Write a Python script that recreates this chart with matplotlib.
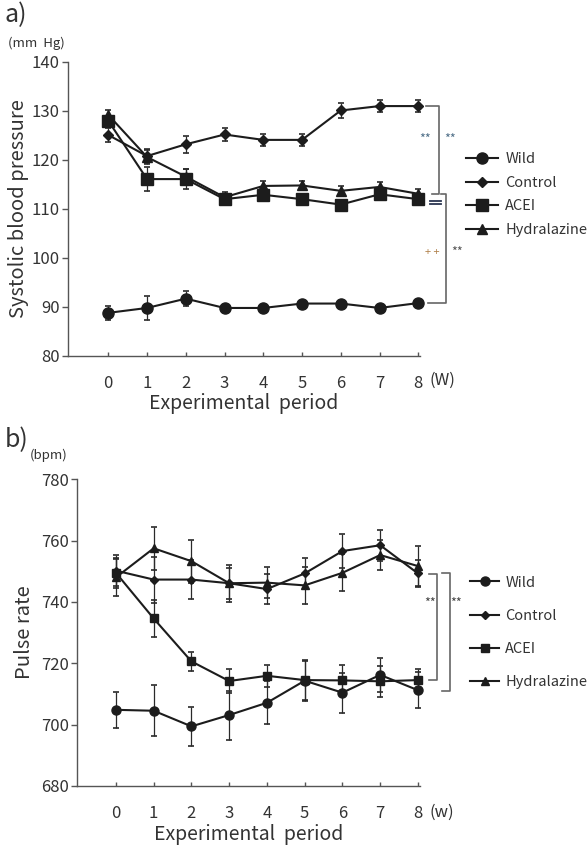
import matplotlib
matplotlib.use("Agg")
import matplotlib.pyplot as plt
from matplotlib.lines import Line2D
import matplotlib.transforms as mtransforms

plt.rcParams['font.family'] = ['Noto Sans CJK JP', 'DejaVu Sans']

weeks = [0, 1, 2, 3, 4, 5, 6, 7, 8]
week_labels = ["0", "1", "2", "3", "4", "5", "6", "7", "8"]
groups = ["Wild", "Control", "ACEI", "Hydralazine"]

# Panel a: systolic blood pressure (mm Hg)
sbp_wild = [88.8, 89.8, 91.7, 89.8, 89.8, 90.7, 90.7, 89.8, 90.8]
sbp_wild_err = [1.5, 2.5, 1.5, 0.5, 0.5, 0.5, 0.5, 0.5, 0.5]
sbp_control = [125.1, 120.8, 123.2, 125.2, 124.1, 124.1, 130.1, 131.0, 131.0]
sbp_control_err = [1.5, 1.5, 1.7, 1.3, 1.3, 1.3, 1.6, 1.3, 1.3]
sbp_acei = [128.0, 116.1, 116.1, 112.0, 112.9, 112.0, 110.9, 113.0, 112.0]
sbp_acei_err = [1.0, 2.5, 2.0, 1.0, 1.0, 1.0, 1.0, 1.0, 1.0]
sbp_hydra = [129.2, 120.6, 116.6, 112.4, 114.7, 114.8, 113.7, 114.5, 113.1]
sbp_hydra_err = [1.0, 1.5, 1.5, 1.0, 1.0, 1.0, 1.0, 1.0, 1.0]
sbp_ticks = [80, 90, 100, 110, 120, 130, 140]

# Panel b: pulse rate (bpm)
pr_wild = [704.8, 704.5, 699.4, 703.1, 707.1, 714.3, 710.4, 716.2, 711.2]
pr_wild_err = [5.8, 8.4, 6.3, 8.0, 7.0, 6.5, 6.5, 5.5, 5.8]
pr_control = [750.2, 747.3, 747.3, 746.1, 744.2, 749.3, 756.6, 758.5, 749.3]
pr_control_err = [5.0, 7.5, 6.5, 5.0, 5.0, 5.0, 5.5, 5.0, 4.5]
pr_acei = [749.5, 734.6, 720.6, 714.2, 715.9, 714.5, 714.4, 714.1, 714.5]
pr_acei_err = [5.0, 6.0, 3.0, 4.0, 3.5, 6.5, 5.0, 5.0, 3.5]
pr_hydra = [748.0, 757.5, 753.3, 746.1, 746.3, 745.4, 749.5, 755.3, 751.7]
pr_hydra_err = [6.0, 7.0, 7.0, 6.0, 5.0, 6.0, 6.0, 5.0, 6.5]
pr_ticks = [680, 700, 720, 740, 760, 780]

LINE = "#1c1c1c"
AX = "#555555"
TXT = "#333333"
BLUE = "#4f6f88"
ORANGE = "#b0804a"

fig = plt.figure(figsize=(5.88, 8.49), dpi=100)


def style_axes(ax, yticks, ylim):
    for s in ["top", "right"]:
        ax.spines[s].set_visible(False)
    for s in ["left", "bottom"]:
        ax.spines[s].set_color(AX)
        ax.spines[s].set_linewidth(1.0)
    ax.set_ylim(*ylim)
    ax.set_yticks(yticks)
    ax.set_xticks(weeks)
    ax.set_xticklabels(week_labels)
    ax.tick_params(axis="y", direction="out", length=4, width=1, color=AX,
                   labelsize=12, labelcolor=TXT, pad=2)
    ax.tick_params(axis="x", direction="in", length=3, width=1, color=AX,
                   labelsize=12, labelcolor=TXT, pad=14)


def draw_series(ax, ydata, yerr, marker, ms):
    ax.errorbar(weeks, ydata, yerr=yerr, color=LINE, marker=marker, ms=ms,
                lw=1.5, elinewidth=0.9, capsize=2.5, capthick=1.2,
                ecolor="#2a2a2a", clip_on=False, zorder=3)


def legend_handles(sizes):
    marks = ["o", "D", "s", "^"]
    return [Line2D([0], [0], color=LINE, lw=1.5, marker=m, ms=s)
            for m, s in zip(marks, sizes)]


def week_unit(ax, text, yfrac):
    tr = mtransforms.blended_transform_factory(ax.transData, ax.transAxes)
    ax.text(8.3, yfrac, text, transform=tr, fontsize=12, color=TXT,
            va="center", ha="left")


# ---------------- Panel a ----------------
axa = fig.add_axes([0.1156, 0.5807, 0.599, 0.3463])
style_axes(axa, sbp_ticks, (80, 140))
axa.set_xlim(-1.04, 8.05)
draw_series(axa, sbp_wild, sbp_wild_err, "o", 8)
draw_series(axa, sbp_control, sbp_control_err, "D", 5.5)
draw_series(axa, sbp_acei, sbp_acei_err, "s", 8)
draw_series(axa, sbp_hydra, sbp_hydra_err, "^", 7.5)
axa.set_ylabel("Systolic blood pressure", fontsize=14.5, color=TXT, labelpad=2)
axa.set_xlabel("Experimental  period", fontsize=14, color=TXT)
axa.xaxis.set_label_coords(0.5, -0.125)
week_unit(axa, "(W)", -0.083)

# brackets panel a
kw = dict(color="#666666", lw=1.2, clip_on=False)
top_c = sbp_control[-1]
mid = sbp_hydra[-1]
axa.plot([8.2, 8.54, 8.54, 8.35], [top_c, top_c, mid, mid], **kw)
axa.plot([8.3, 8.6], [sbp_acei[-1] - 0.4, sbp_acei[-1] - 0.4], color="#2a3550", lw=1.3, clip_on=False)
axa.plot([8.3, 8.6], [sbp_acei[-1] - 1.0, sbp_acei[-1] - 1.0], color="#2a3550", lw=1.3, clip_on=False)
axa.plot([8.6, 8.72, 8.72, 8.25], [mid, mid, sbp_wild[-1], sbp_wild[-1]], **kw)
axa.text(8.18, 124.1, "**", fontsize=9, color=BLUE, ha="center", va="center")
axa.text(8.83, 124.1, "**", fontsize=9, color=BLUE, ha="center", va="center")
axa.text(8.37, 101.2, "+ +", fontsize=8, color=ORANGE, ha="center", va="center")
axa.text(9.0, 101.2, "**", fontsize=9, color="#555555", ha="center", va="center")

leg_a = axa.legend(legend_handles([8, 5.5, 8, 7.5]), groups,
                   loc="upper left", bbox_to_anchor=(1.113, 0.712), frameon=False,
                   fontsize=10.5, handlelength=2.2, handletextpad=0.5,
                   labelspacing=0.65, borderaxespad=0)
for t in leg_a.get_texts():
    t.set_color(TXT)

fig.text(0.008, 0.982, "a)", fontsize=18, color=TXT, va="center", ha="left")
fig.text(0.014, 0.949, "(mm  Hg)", fontsize=9.5, color=TXT, va="center", ha="left")

# ---------------- Panel b ----------------
axb = fig.add_axes([0.131, 0.0744, 0.583, 0.361])
style_axes(axb, pr_ticks, (680, 780))
axb.set_xlim(-1.03, 8.05)
draw_series(axb, pr_wild, pr_wild_err, "o", 6.5)
draw_series(axb, pr_control, pr_control_err, "D", 4.5)
draw_series(axb, pr_acei, pr_acei_err, "s", 6)
draw_series(axb, pr_hydra, pr_hydra_err, "^", 6)
axb.set_ylabel("Pulse rate", fontsize=14.5, color=TXT, labelpad=4)
axb.set_xlabel("Experimental  period", fontsize=14, color=TXT)
axb.xaxis.set_label_coords(0.5, -0.125)
week_unit(axb, "(w)", -0.085)

axb.plot([8.28, 8.51, 8.51, 8.28], [749.0, 749.0, 714.5, 714.5], **kw)
axb.plot([8.65, 8.86, 8.86, 8.65], [749.3, 749.3, 710.8, 710.8], **kw)
axb.text(8.31, 739.6, "**", fontsize=9, color="#444444", ha="center", va="center")
axb.text(9.02, 739.6, "**", fontsize=9, color="#444444", ha="center", va="center")

leg_b = axb.legend(legend_handles([6.5, 4.5, 6, 6]), groups,
                   loc="upper left", bbox_to_anchor=(1.13, 0.705), frameon=False,
                   fontsize=10.5, handlelength=2.0, handletextpad=0.4,
                   labelspacing=1.32, borderaxespad=0)
for t in leg_b.get_texts():
    t.set_color(TXT)

fig.text(0.008, 0.482, "b)", fontsize=18, color=TXT, va="center", ha="left")
fig.text(0.05, 0.464, "(bpm)", fontsize=9.5, color=TXT, va="center", ha="left")

fig.savefig("out.png", dpi=100)
